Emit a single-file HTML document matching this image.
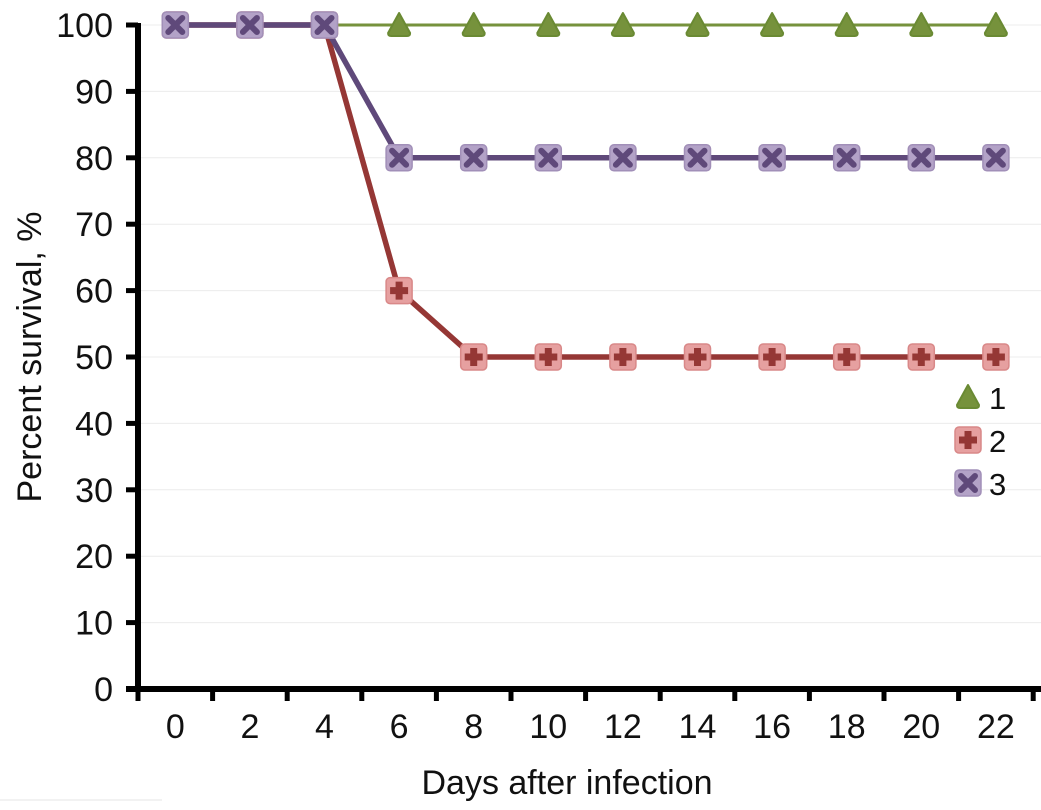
<!DOCTYPE html>
<html><head><meta charset="utf-8"><style>
body{margin:0;background:#fff;}
svg{display:block;font-family:"Liberation Sans",sans-serif;}
</style></head><body>
<svg id="chart" width="1041" height="810" viewBox="0 0 1041 810">
<g id="grid"></g>
<g id="series"></g>
<g id="axes"></g>
<text x="567" y="794" font-size="34" text-anchor="middle" fill="#111">Days after infection</text>
<text transform="translate(41,357) rotate(-90)" font-size="34" text-anchor="middle" fill="#111">Percent survival, %</text>
<line x1="0" y1="800" x2="162" y2="800" stroke="#e4e4e4"/>
<g id="legend"></g>
</svg>
<script>
const categories=[0,2,4,6,8,10,12,14,16,18,20,22];
const series1=[100,100,100,100,100,100,100,100,100,100,100,100];
const series2=[100,100,100,60,50,50,50,50,50,50,50,50];
const series3=[100,100,100,80,80,80,80,80,80,80,80,80];
const yTicks=[0,10,20,30,40,50,60,70,80,90,100];
const seriesNames=["1","2","3"];

const NS="http://www.w3.org/2000/svg";
const X0=138,CW=74.6,Y0=689,YTOP=25;
const xPos=i=>X0+CW*(i+0.5);
const yPos=v=>Y0-(Y0-YTOP)*v/100;
function mk(tag,attrs,parent){const e=document.createElementNS(NS,tag);for(const k in attrs)e.setAttribute(k,attrs[k]);parent.appendChild(e);return e;}
const grid=document.getElementById('grid'),axes=document.getElementById('axes'),ser=document.getElementById('series'),leg=document.getElementById('legend');

yTicks.forEach(v=>{
  if(v>0){const g=mk('line',{x1:X0,x2:1041,y1:yPos(v),y2:yPos(v),stroke:'#ececec','stroke-width':1},grid);
  
  }
  const t=mk('line',{x1:126,x2:X0,y1:yPos(v),y2:yPos(v),stroke:'#000','stroke-width':5},axes);
  
  
  const l=mk('text',{x:113,y:yPos(v)+12,'font-size':34,'text-anchor':'end',fill:'#111'},axes);
  l.textContent=v;
  
  
});
const ya=mk('line',{x1:X0,x2:X0,y1:YTOP-2,y2:Y0+3,stroke:'#000','stroke-width':6},axes);


const xa=mk('line',{x1:126,x2:1041,y1:Y0,y2:Y0,stroke:'#000','stroke-width':6},axes);


for(let i=0;i<=categories.length;i++){
  const t=mk('line',{x1:X0+CW*i,x2:X0+CW*i,y1:Y0,y2:Y0+12,stroke:'#000','stroke-width':5},axes);
  
  
}
categories.forEach((c,i)=>{
  const l=mk('text',{x:xPos(i),y:738,'font-size':34,'text-anchor':'middle',fill:'#111'},axes);
  l.textContent=c;
  
  
});

function tri(p,x,y){const e=mk('path',{d:`M${x} ${y-12} L${x+11} ${y+8} Q${x+11} ${y+11} ${x+8} ${y+11} L${x-8} ${y+11} Q${x-11} ${y+11} ${x-11} ${y+8} Z`,fill:'#76923c',stroke:'#6a8a33','stroke-width':2,'stroke-linejoin':'round'},p);return e;}
function plus(p,x,y){const g=mk('g',{},p);mk('rect',{x:x-13,y:y-13,width:26,height:26,rx:4,fill:'#e6a0a0',stroke:'#d98888','stroke-width':1.5},g);
  mk('path',{d:`M${x-3.5} ${y-9}h7v5.5h5.5v7h-5.5v5.5h-7v-5.5h-5.5v-7h5.5z`,fill:'#953735'},g);return g;}
function cross(p,x,y){const g=mk('g',{},p);mk('rect',{x:x-13,y:y-13,width:26,height:26,rx:4,fill:'#b3a2c7',stroke:'#a18fb8','stroke-width':1.5},g);
  mk('path',{d:`M${x-7} ${y-7}L${x+7} ${y+7}M${x+7} ${y-7}L${x-7} ${y+7}`,stroke:'#5f497a','stroke-width':6,'stroke-linecap':'round'},g);return g;}

function drawLine(vals,color,w,name){
  const pts=vals.map((v,i)=>xPos(i)+','+yPos(v)).join(' ');
  const l=mk('polyline',{points:pts,fill:'none',stroke:color,'stroke-width':w,'stroke-linejoin':'round'},ser);
  
  
}
drawLine(series1,'#76923c',3,'series-1-line');
drawLine(series2,'#953735',5.5,'series-2-line');
drawLine(series3,'#5f497a',5.5,'series-3-line');
series1.forEach((v,i)=>{const m=tri(ser,xPos(i),yPos(v));
  
  });
series2.forEach((v,i)=>{const m=plus(ser,xPos(i),yPos(v));
  
  });
series3.forEach((v,i)=>{const m=cross(ser,xPos(i),yPos(v));
  
  });

const makers=[tri,plus,cross];
seriesNames.forEach((n,i)=>{
  const y=397+43*i;
  const m=makers[i](leg,968,y);
  
  
  const t=mk('text',{x:989,y:y+12,'font-size':31,fill:'#111'},leg);
  t.textContent=n;
  
  
});
</script>
</body></html>
